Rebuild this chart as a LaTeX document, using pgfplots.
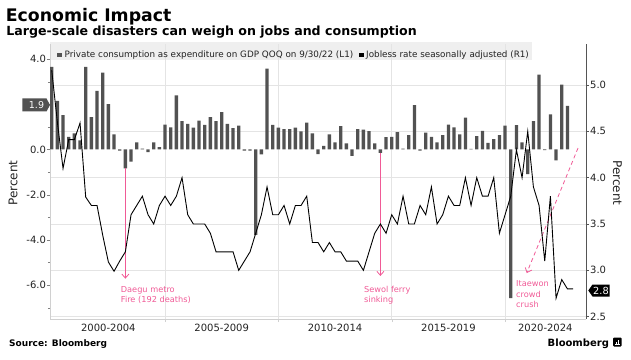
\documentclass[border=0pt]{standalone}
\usepackage{pgfplots}
\pgfplotsset{compat=1.18}
\usepackage{fontspec}
\setmainfont{DejaVu Sans}
\usetikzlibrary{arrows.meta}
\definecolor{barc}{HTML}{525252}
\definecolor{pinkc}{HTML}{F05A96}
\definecolor{gridc}{HTML}{E4E4E4}
\definecolor{txt}{HTML}{222222}
\definecolor{legbg}{HTML}{EFEFEF}
\definecolor{axc}{HTML}{555555}
\pgfplotsset{
  common/.style={scale only axis, width=536pt, height=275pt, xmin=-0.3, xmax=94.28},
}

\begin{document}
\begin{tikzpicture}
\begin{scope}[x=1pt,y=1pt,shift={(-50pt,-40pt)}]
\useasboundingbox (0,0) rectangle (631,359);
\fill[legbg] (50,298.5) rectangle (532,316.5);
\end{scope}

% ---- Axis A: grid, bottom axis, period labels
\begin{axis}[common,
  ymin=2.475, ymax=5.442,
  axis x line*=bottom, axis y line*=left,
  axis line style={draw=gridc!80!gray},
  xtick={20,40,60,80}, xticklabels={,,,},
  ytick={2.5,3,3.5,4,4.5,5}, yticklabels={,,,,,},
  y tick style={draw=none},
  x tick style={draw=gridc!80!gray},
  tick align=outside, major tick length=3pt,
  xmajorgrids, ymajorgrids,
  grid style={gridc, line width=0.6pt},
  extra x ticks={10,30,50,70,87.1},
  extra x tick labels={2000-2004,2005-2009,2010-2014,2015-2019,2020-2024},
  extra x tick style={major tick length=0pt, grid=none},
  xticklabel style={font=\fontsize{10}{12}\selectfont, text=txt, yshift=-2pt},
]
\end{axis}

% ---- Axis B: bars, left scale
\begin{axis}[common,
  ymin=-7.504, ymax=4.664,
  axis x line=none, axis y line*=left,
  y axis line style={draw=gridc!80!gray},
  ytick={-6,-4,-2,0,2,4}, yticklabels={-6.0,-4.0,-2.0,0.0,,4.0},
  minor ytick={-7,-5,-3,-1,1,3},
  tick align=outside, major tick length=3pt, minor tick length=2pt,
  y tick style={draw=gray},
  yticklabel style={font=\fontsize{10}{12}\selectfont, text=txt, inner sep=0.8pt},
]
\addplot[ybar, bar width=3.3pt, bar shift=0pt, fill=barc, draw=none] coordinates {
(0,3.65)(1,2.15)(2,1.52)(3,0.56)(4,0.71)(5,0.40)(6,3.65)(7,1.43)(8,2.59)(9,3.40)
(10,2.00)(11,0.66)(12,-0.05)(13,-0.84)(14,-0.54)(15,0.31)(16,0.03)(17,-0.12)(18,0.31)(19,0.10)
(20,1.10)(21,0.97)(22,2.39)(23,1.25)(24,1.13)(25,0.96)(26,1.27)(27,1.09)(28,1.43)(29,1.25)
(30,1.65)(31,1.13)(32,0.94)(33,1.05)(34,-0.05)(35,-0.05)(36,-3.78)(37,-0.22)(38,3.58)(39,1.09)
(40,0.96)(41,0.90)(42,0.90)(43,0.96)(44,0.80)(45,1.19)(46,0.71)(47,-0.21)(48,0.16)(49,0.66)
(50,0.31)(51,1.03)(52,0.27)(53,-0.29)(54,0.90)(55,0.88)(56,0.81)(57,0.27)(58,-0.15)(59,0.54)
(60,0.56)(61,0.77)(62,0.03)(63,0.63)(64,1.96)(65,-0.05)(66,0.74)(67,0.56)(68,0.31)(69,0.63)
(70,1.10)(71,0.97)(72,0.66)(73,1.41)(74,0.02)(75,0.59)(76,0.82)(77,0.29)(78,0.46)(79,0.63)
(80,1.05)(81,-6.58)(82,1.08)(83,0.31)(84,-1.09)(85,1.25)(86,3.31)(87,-0.03)(88,1.55)(89,-0.49)
(90,2.87)(91,1.93)
};
\draw[pinkc, line width=0.8pt, -{Straight Barb[length=4pt,width=7pt]}] (axis cs:13,-0.84) -- (axis cs:13,-5.72);
\draw[pinkc, line width=0.8pt, -{Straight Barb[length=4pt,width=7pt]}] (axis cs:58,-0.15) -- (axis cs:58,-5.6);
\draw[pinkc, line width=0.8pt, dash pattern=on 4pt off 3pt, -{Straight Barb[length=4pt,width=7pt]}] (axis cs:92.87,0.06) -- (axis cs:83.82,-5.47);
\end{axis}

% ---- Axis C: jobless line, right scale
\begin{axis}[common,
  ymin=2.475, ymax=5.442,
  axis x line=none, axis y line*=right,
  y axis line style={draw=axc, line width=0.8pt},
  ytick={2.5,3,3.5,4,4.5,5}, yticklabels={2.5,3.0,3.5,4.0,4.5,5.0},
  tick align=outside, major tick length=3pt,
  y tick style={draw=axc, line width=0.8pt},
  yticklabel style={font=\fontsize{10}{12}\selectfont, text=txt, inner sep=1pt},
]
\addplot[black, line width=0.9pt, mark=none] coordinates {
(0,5.16)(1,4.6)(2,4.10)(3,4.41)(4,4.41)(5,4.59)(6,3.79)(7,3.70)(8,3.70)(9,3.38)
(10,3.09)(11,2.99)(12,3.1)(13,3.2)(14,3.6)(15,3.7)(16,3.8)(17,3.6)(18,3.5)(19,3.7)
(20,3.8)(21,3.7)(22,3.8)(23,4.0)(24,3.6)(25,3.5)(26,3.5)(27,3.5)(28,3.4)(29,3.2)
(30,3.2)(31,3.2)(32,3.2)(33,3.0)(34,3.1)(35,3.2)(36,3.4)(37,3.6)(38,3.9)(39,3.6)
(40,3.6)(41,3.7)(42,3.5)(43,3.7)(44,3.7)(45,3.8)(46,3.3)(47,3.3)(48,3.2)(49,3.3)
(50,3.2)(51,3.2)(52,3.1)(53,3.1)(54,3.1)(55,3.0)(56,3.2)(57,3.4)(58,3.5)(59,3.4)
(60,3.6)(61,3.5)(62,3.8)(63,3.5)(64,3.5)(65,3.7)(66,3.6)(67,3.9)(68,3.5)(69,3.6)
(70,3.8)(71,3.7)(72,3.7)(73,4.0)(74,3.7)(75,4.0)(76,3.8)(77,3.8)(78,4.0)(79,3.4)
(80,3.6)(81,3.8)(82,4.3)(83,4.0)(84,4.5)(85,3.9)(86,3.7)(87,3.1)(88,3.8)(89,2.7)
(90,2.9)(91,2.8)(92,2.8)
};
\end{axis}

\begin{scope}[x=1pt,y=1pt,shift={(-50pt,-40pt)}]
% legend entries
\fill[barc] (57.3,301.7) rectangle (62.3,306.3);
\node[anchor=base west, inner sep=0pt, font=\fontsize{8.8}{10}\selectfont, text=txt] at (64.5,301.3) {Private consumption as expenditure on GDP QOQ on 9/30/22 (L1)};
\fill[black] (359.3,301.7) rectangle (364.3,306.3);
\node[anchor=base west, inner sep=0pt, font=\fontsize{8.8}{10}\selectfont, text=txt] at (366,301.3) {Jobless rate seasonally adjusted (R1)};

% value callouts
\fill[barc] (22.5,247.5) -- (46.5,247.5) -- (50,254) -- (46.5,260.5) -- (22.5,260.5) -- cycle;
\node[text=white, font=\fontsize{9.5}{11}\selectfont, inner sep=0pt] at (36.5,254) {1.9};
\fill[black] (588.3,68.5) -- (592.5,74.5) -- (609.5,74.5) -- (609.5,62.5) -- (592.5,62.5) -- cycle;
\node[text=white, font=\fontsize{9.8}{11}\selectfont, inner sep=0pt] at (601,68.5) {2.8};

% axis titles
\node[rotate=90, font=\fontsize{12}{14}\selectfont, text=txt, inner sep=0pt] at (13,176) {Percent};
\node[rotate=-90, font=\fontsize{12}{14}\selectfont, text=txt, inner sep=0pt] at (617.5,176) {Percent};

% annotations
\begin{scope}[font=\fontsize{8.2}{10}\selectfont, text=pinkc]
\node[anchor=base west, inner sep=0pt] at (120.7,67) {Daegu metro};
\node[anchor=base west, inner sep=0pt] at (120.7,57) {Fire (192 deaths)};
\node[anchor=base west, inner sep=0pt] at (364,67) {Sewol ferry};
\node[anchor=base west, inner sep=0pt] at (364,57) {sinking};
\node[anchor=base west, inner sep=0pt] at (516,72.5) {Itaewon};
\node[anchor=base west, inner sep=0pt] at (516,62) {crowd};
\node[anchor=base west, inner sep=0pt] at (516,51.5) {crush};
\end{scope}

% titles
\node[anchor=base west, inner sep=0pt, font=\fontsize{17.3}{20}\selectfont\bfseries] at (5.7,337.3) {Economic Impact};
\node[anchor=base west, inner sep=0pt, font=\fontsize{12.6}{15}\selectfont\bfseries] at (6.2,323) {Large-scale disasters can weigh on jobs and consumption};

% footer
\node[anchor=base west, inner sep=0pt, font=\fontsize{9}{10}\selectfont\bfseries] at (9,12.5) {Source: Bloomberg};
\node[anchor=base west, inner sep=0pt, font=\fontsize{10}{12}\selectfont\bfseries] at (547.5,13) {Bloomberg};
\fill[black, rounded corners=1pt] (613,12.5) rectangle (621.5,21.5);
\fill[white] (615.5,14.5) rectangle (616.5,17.5);
\fill[white] (617.5,14.5) rectangle (618.5,19);
\fill[white] (614.5,14) rectangle (620,14.6);
\end{scope}
\end{tikzpicture}
\end{document}
